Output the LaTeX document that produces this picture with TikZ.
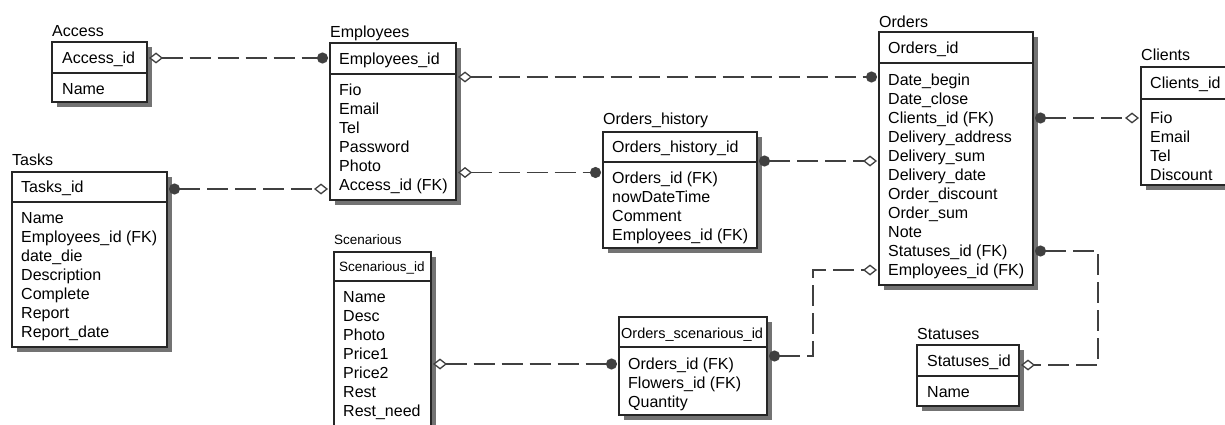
\documentclass[tikz,border=0pt]{standalone}
\usepackage{fontspec}
\setmainfont{Liberation Sans}
\usetikzlibrary{arrows.meta,shadows}

\tikzset{
  ent/.style={draw=black!85, line width=1.4pt, fill=white, anchor=north west,
    inner sep=0pt, outer sep=0pt,
    drop shadow={shadow xshift=5pt, shadow yshift=-5pt, fill=black!55, opacity=1, draw=none}},
  rule/.style={draw=black!85, line width=1.4pt},
  lbl/.style={anchor=west, inner sep=0pt, text height=11.5pt, text depth=0pt,
    text=black, font=\fontsize{16}{19}\selectfont},
  small/.style={lbl, text height=9.7pt, font=\fontsize{13.5}{16}\selectfont},
  mid/.style={lbl, text height=10.4pt, font=\fontsize{14.5}{17}\selectfont},
  rel/.style={draw=black!75, line width=1.7pt, dash pattern=on 21pt off 7pt,
    shorten <=2pt, shorten >=2pt},
  d2c/.style={arrows={Diamond[open,fill=white,length=14pt,width=11pt,line width=1.3pt]-Circle[length=11pt]}},
  c2d/.style={arrows={Circle[length=11pt]-Diamond[open,fill=white,length=14pt,width=11pt,line width=1.3pt]}},
}

% one text node per attribute line, 19pt apart
\newcommand\fieldrows[5][lbl]{%
  \foreach \fname [count=\i] in {#5}
    \node[#1] (#2-\i) at (#3,{#4+19*(\i-1)}) {\fname};}

\begin{document}
\begin{tikzpicture}[x=1pt,y=-1pt]
\path[use as bounding box] (0,0) rectangle (1225,425);
\fill[white] (0,0) rectangle (1225,425);
\clip (0,0) rectangle (1225,425);

% Access
\node[lbl] (acc-t) at (52,30.5) {Access};
\node[ent, minimum width=95pt, minimum height=60pt] (acc) at (52,42) {};
\draw[rule] (acc.west |- 0,73) -- (acc.east |- 0,73);
\node[lbl] (acc-h) at (62,58) {Access\_id};
\node[lbl] (acc-1) at (62,89) {Name};

% Employees
\node[lbl] (emp-t) at (330,32) {Employees};
\node[ent, minimum width=126pt, minimum height=157pt] (emp) at (330,43) {};
\draw[rule] (emp.west |- 0,74) -- (emp.east |- 0,74);
\node[lbl] (emp-h) at (339,59) {Employees\_id};
\fieldrows{emp}{339}{90}{Fio,Email,Tel,Password,Photo,Access\_id (FK)}

% Tasks
\node[lbl] (tsk-t) at (12,160) {Tasks};
\node[ent, minimum width=155pt, minimum height=175pt] (tsk) at (12,172) {};
\draw[rule] (tsk.west |- 0,202) -- (tsk.east |- 0,202);
\node[lbl] (tsk-h) at (21,187) {Tasks\_id};
\fieldrows{tsk}{21}{218}{Name,Employees\_id (FK),date\_die,Description,Complete,Report,Report\_date}

% Scenarious
\node[small] (sc-t) at (334,240) {Scenarious};
\node[ent, minimum width=97pt, minimum height=200pt] (sc) at (334,252) {};
\draw[rule] (sc.west |- 0,281) -- (sc.east |- 0,281);
\node[small] (sc-h) at (339,267) {Scenarious\_id};
\fieldrows{sc}{343}{297}{Name,Desc,Photo,Price1,Price2,Rest,Rest\_need}

% Orders_history
\node[lbl] (oh-t) at (603,119) {Orders\_history};
\node[ent, minimum width=154pt, minimum height=116pt] (oh) at (603,132) {};
\draw[rule] (oh.west |- 0,162) -- (oh.east |- 0,162);
\node[lbl] (oh-h) at (612,147) {Orders\_history\_id};
\fieldrows{oh}{612}{178}{Orders\_id (FK),nowDateTime,Comment,Employees\_id (FK)}

% Orders_scenarious_id
\node[ent, minimum width=148pt, minimum height=98pt] (os) at (619,317) {};
\draw[rule] (os.west |- 0,347) -- (os.east |- 0,347);
\node[mid] (os-h) at (621,333) {Orders\_scenarious\_id};
\fieldrows{os}{628}{364}{Orders\_id (FK),Flowers\_id (FK),Quantity}

% Orders
\node[lbl] (ord-t) at (879,21.5) {Orders};
\node[ent, minimum width=154pt, minimum height=253pt] (ord) at (879,32) {};
\draw[rule] (ord.west |- 0,63) -- (ord.east |- 0,63);
\node[lbl] (ord-h) at (888,48) {Orders\_id};
\fieldrows{ord}{888}{80}{Date\_begin,Date\_close,Clients\_id (FK),Delivery\_address,Delivery\_sum,Delivery\_date,Order\_discount,Order\_sum,Note,Statuses\_id (FK),Employees\_id (FK)}

% Clients
\node[lbl] (cli-t) at (1141,55) {Clients};
\node[ent, minimum width=110pt, minimum height=118pt] (cli) at (1141,67) {};
\draw[rule] (cli.west |- 0,99) -- (cli.east |- 0,99);
\node[lbl] (cli-h) at (1150,83) {Clients\_id};
\fieldrows{cli}{1150}{118}{Fio,Email,Tel,Discount}

% Statuses
\node[lbl] (sta-t) at (917,333.5) {Statuses};
\node[ent, minimum width=102pt, minimum height=61pt] (sta) at (917,345) {};
\draw[rule] (sta.west |- 0,376) -- (sta.east |- 0,376);
\node[lbl] (sta-h) at (927,361) {Statuses\_id};
\node[lbl] (sta-1) at (927,392) {Name};

% relationship levels
\coordinate (j2) at ([yshift=-4pt]emp-6.west);
\coordinate (j3) at ([yshift=3pt]ord-1.west);
\coordinate (j4) at ([yshift=5.5pt]oh-1.west);
\coordinate (j5) at ([yshift=-5pt]ord-5.west);
\coordinate (j7) at ([yshift=-4pt]sta-h.east);
\coordinate (j8) at ([yshift=8pt]os-1.east);

% relationships
\draw[rel,d2c] (acc.east |- acc-h) -- (emp.west |- acc-h);
\draw[rel,c2d] (tsk.east |- j2) -- (emp.west |- j2);
\draw[rel,d2c] (emp.east |- j3) -- (ord.west |- j3);
\draw[rel,d2c] (emp.east |- j4) -- (oh.west |- j4);
\draw[rel,c2d] (oh.east |- j5) -- (ord.west |- j5);
\draw[rel,c2d] (ord.east |- ord-3) -- (cli.west |- ord-3);
\draw[rel,c2d] (ord.east |- ord-10) -- ++(65,0) |- (sta.east |- j7);
\draw[rel,c2d] (os.east |- j8) -- ++(46,0) |- (ord.west |- ord-11);
\draw[rel,d2c] (sc.east |- os-1) -- (os.west |- os-1);
\end{tikzpicture}
\end{document}
